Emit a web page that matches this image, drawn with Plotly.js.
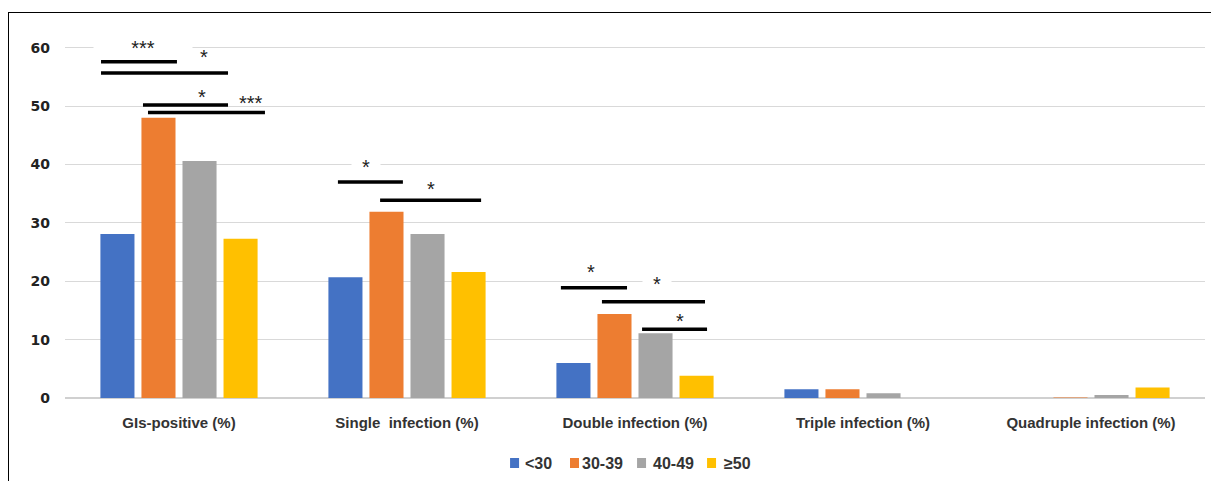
<!DOCTYPE html>
<html>
<head>
<meta charset="utf-8">
<script src="https://cdn.plot.ly/plotly-3.0.1.min.js"></script>
<style>
  html, body { margin: 0; padding: 0; background: #fff; }
  #wrap { position: relative; width: 1211px; height: 481px; }
  #chart { width: 1211px; height: 481px; }
  #frame { position: absolute; left: 8px; top: 12px; width: 1220px; height: 500px;
           border: 1.5px solid #000; pointer-events: none; box-sizing: border-box; }
</style>
</head>
<body>
<div id="wrap">
  <div id="chart"></div>
  <div id="frame"></div>
</div>
<script>
// ---- data ----
const categories = ["GIs-positive (%)", "Single  infection (%)", "Double infection (%)", "Triple infection (%)", "Quadruple infection (%)"];
const seriesNames = ["<30", "30-39", "40-49", "≥50"];
const under30 = [28.1, 20.7, 6.0, 1.5, 0.0];
const age30to39 = [48.0, 31.9, 14.4, 1.5, 0.1];
const age40to49 = [40.6, 28.1, 11.1, 0.8, 0.5];
const over50 = [27.3, 21.6, 3.8, 0.0, 1.8];
const yTicks = [0, 10, 20, 30, 40, 50, 60];

// significance brackets: category index, start/end offsets (category units), height, label
const sigCat = [0, 0, 0, 0, 1, 1, 2, 2, 2];
const sigFrom = [-0.342, -0.342, -0.158, -0.136, -0.303, -0.118, -0.325, -0.145, 0.031];
const sigTo = [-0.009, 0.215, 0.215, 0.377, -0.018, 0.325, -0.035, 0.307, 0.316];
const sigY = [57.6, 55.7, 50.2, 48.9, 37.0, 33.9, 18.9, 16.5, 11.8];
const sigLabel = ["***", "*", "*", "***", "*", "*", "*", "*", "*"];
const sigLabelX = [-0.158, 0.11, 0.10, 0.315, -0.18, 0.105, -0.193, 0.096, 0.197];
const sigLabelY = [60.0, 58.5, 51.6, 50.6, 39.6, 35.8, 21.6, 19.6, 13.2];
// labels whose white text box breaks a gridline
const sigMasked = [true, false, false, false, true, false, false, true, false];
const sigBoxW = [98, 28, 28, 36, 28, 28, 28, 28, 28];

// legend layout (paper coordinates)
const legendSwatchX = [0.3904, 0.4430, 0.5018, 0.5632];
const legendTextX = [0.4018, 0.4518, 0.5140, 0.5763];
const legendY = -0.1826;

const colors = ["#4472C4", "#ED7D31", "#A5A5A5", "#FFC000"];
const allSeries = [under30, age30to39, age40to49, over50];

const traces = allSeries.map((vals, i) => ({
  type: "bar",
  name: seriesNames[i],
  x: categories.map((c, k) => k),
  y: vals,
  marker: { color: colors[i], line: { width: 0 } },
  hoverinfo: "y+name",
  showlegend: false
}));

const shapes = sigCat.map((c, i) => ({
  type: "line", xref: "x", yref: "y",
  x0: c + sigFrom[i], x1: c + sigTo[i], y0: sigY[i], y1: sigY[i],
  line: { color: "#000", width: 3.5 }
}));

const annotations = sigCat.map((c, i) => {
  const a = {
    xref: "x", yref: "y", x: c + sigLabelX[i], y: sigLabelY[i],
    text: sigLabel[i], showarrow: false,
    font: { family: "Liberation Sans, Arial, sans-serif", size: 20, color: "#222" }
  };
  if (sigMasked[i]) { a.bgcolor = "#fff"; a.width = sigBoxW[i]; a.height = 14; a.borderpad = 0; }
  return a;
});

// custom legend: swatches + labels
seriesNames.forEach((name, i) => {
  shapes.push({
    type: "rect", xref: "paper", yref: "paper",
    xsizemode: "pixel", ysizemode: "pixel",
    xanchor: legendSwatchX[i], yanchor: legendY,
    x0: 0, x1: 9, y0: -5, y1: 5,
    fillcolor: colors[i], line: { width: 0 }
  });
  annotations.push({
    xref: "paper", yref: "paper", x: legendTextX[i], y: legendY,
    xanchor: "left", yanchor: "middle", showarrow: false,
    text: name,
    font: { family: "Liberation Sans, Arial, sans-serif", size: 16, color: "#333", weight: "bold" }
  });
});

const layout = {
  width: 1211, height: 481,
  margin: { l: 65, r: 6, t: 42, b: 83 },
  paper_bgcolor: "#fff", plot_bgcolor: "#fff",
  barmode: "group", bargap: 0.28, bargroupgap: 0.17,
  showlegend: false,
  xaxis: {
    type: "linear", range: [-0.5, 4.5],
    tickvals: categories.map((c, k) => k), ticktext: categories,
    showgrid: false, zeroline: false, showline: false, ticks: "",
    ticklabelstandoff: 14,
    tickfont: { family: "Liberation Sans, Arial, sans-serif", size: 15, color: "#333", weight: "bold" }
  },
  yaxis: {
    range: [0, 61], tickvals: yTicks, ticktext: yTicks.map(String),
    showgrid: true, gridcolor: "#d9d9d9", gridwidth: 1,
    zeroline: true, zerolinecolor: "#d0d0d0", zerolinewidth: 1.5,
    showline: false, ticks: "",
    ticklabelstandoff: 14,
    tickfont: { family: "DejaVu Sans, Verdana, sans-serif", size: 14, color: "#222", weight: "bold" }
  },
  shapes: shapes,
  annotations: annotations
};

Plotly.newPlot("chart", traces, layout, { displayModeBar: false, staticPlot: true });
</script>
</body>
</html>
